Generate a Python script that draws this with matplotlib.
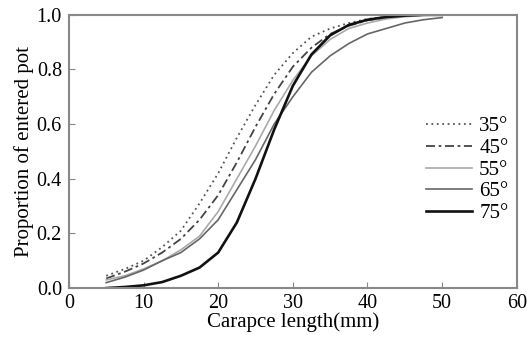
import matplotlib
matplotlib.use('Agg')
import matplotlib.pyplot as plt

# carapace length (mm)
length = [5, 7.5, 10, 12.5, 15, 17.5, 20, 22.5, 25, 27.5, 30, 32.5, 35, 37.5, 40, 42.5, 45, 47.5, 50]

# cumulative proportion of crabs that entered the pot, by entrance angle
p35 = [0.045, 0.07, 0.10, 0.15, 0.21, 0.31, 0.42, 0.55, 0.67, 0.78, 0.86, 0.92, 0.95, 0.97, 0.985, 0.993, 0.998, 1.0, 1.0]
p45 = [0.035, 0.06, 0.09, 0.13, 0.18, 0.25, 0.34, 0.46, 0.59, 0.71, 0.81, 0.88, 0.93, 0.96, 0.98, 0.99, 0.997, 1.0, 1.0]
p55 = [0.03, 0.045, 0.07, 0.10, 0.14, 0.19, 0.28, 0.40, 0.52, 0.65, 0.76, 0.85, 0.91, 0.95, 0.97, 0.985, 0.993, 0.998, 1.0]
p65 = [0.02, 0.04, 0.066, 0.10, 0.13, 0.18, 0.25, 0.36, 0.47, 0.60, 0.70, 0.79, 0.85, 0.895, 0.93, 0.95, 0.97, 0.982, 0.99]
p75 = [0.0, 0.004, 0.01, 0.022, 0.045, 0.075, 0.13, 0.24, 0.40, 0.58, 0.74, 0.855, 0.925, 0.963, 0.982, 0.992, 0.997, 1.0, 1.0]

labels = ['35°', '45°', '55°', '65°', '75°']
xticks = [0, 10, 20, 30, 40, 50, 60]
yticks = [0.0, 0.2, 0.4, 0.6, 0.8, 1.0]

plt.rcParams['font.family'] = ['Liberation Serif', 'DejaVu Serif']

fig = plt.figure(figsize=(5.3, 3.45), dpi=100)
ax = fig.add_axes([0.130, 0.165, 0.845, 0.792])

ax.plot(length, p35, color='#555555', lw=1.3, ls=(0, (1, 2)), label=labels[0])
ax.plot(length, p45, color='#444444', lw=1.3, ls=(0, (5, 2, 1.5, 2)), label=labels[1])
ax.plot(length, p55, color='#aaaaaa', lw=1.2, label=labels[2])
ax.plot(length, p65, color='#666666', lw=1.2, label=labels[3])
ax.plot(length, p75, color='#111111', lw=1.9, label=labels[4])

ax.set_xlim(0, 60)
ax.set_ylim(0, 1.0)
ax.set_xticks(xticks)
ax.set_yticks(yticks)
ax.set_yticklabels(['%.1f' % v for v in yticks])
ax.tick_params(direction='in', length=4, width=0.8, color='#888888', labelsize=14.5)
ax.tick_params(axis='x', pad=4)
ax.tick_params(axis='y', pad=5)
for s in ax.spines.values():
    s.set_color('#888888')
    s.set_linewidth(1.5)

ax.set_xlabel('Carapce length(mm)', fontsize=15, labelpad=0)
ax.set_ylabel('Proportion of entered pot', fontsize=15, labelpad=2)

ax.legend(loc='center right', bbox_to_anchor=(1.0, 0.432), frameon=False, fontsize=15,
          handlelength=2.2, handletextpad=0.35, labelspacing=0.1, borderaxespad=0.3,
          borderpad=0.1)

fig.savefig('out.png', dpi=100)
